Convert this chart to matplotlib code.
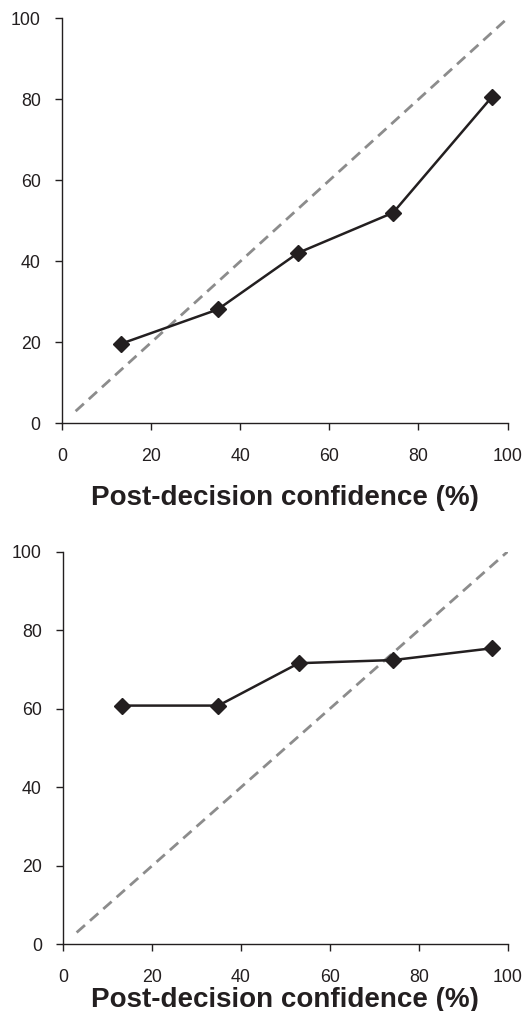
import matplotlib
matplotlib.use('Agg')
from matplotlib import pyplot as plt

plt.rcParams['font.family'] = ['Liberation Sans', 'DejaVu Sans']

# Data
conf_bins = [13.1, 34.9, 53.0, 74.3, 96.5]
top_acc = [19.6, 28.1, 42.1, 52.0, 80.6]
bottom_acc = [60.8, 60.8, 71.6, 72.4, 75.4]
diag = [3, 100]
ticks = [0, 20, 40, 60, 80, 100]
xlabel = 'Post-decision confidence (%)'

dark = '#231f20'

fig = plt.figure(figsize=(5.22, 10.11), dpi=100)
ax1 = fig.add_axes([0.1193, 0.5813, 0.8530, 0.4006])
ax2 = fig.add_axes([0.1213, 0.0660, 0.8510, 0.3883])

for ax, acc, lp, xpad in [(ax1, top_acc, 14, 13), (ax2, bottom_acc, 1, 12.5)]:
    ax.plot(diag, diag, color='#8c8c8c', lw=2.0, dashes=(4.0, 2.4), zorder=1)
    ax.plot(conf_bins, acc, color=dark, lw=1.8, marker='D', ms=8.5,
            mfc=dark, mec=dark, zorder=2)
    ax.set_xlim(0, 100)
    ax.set_ylim(0, 100)
    ax.set_xticks(ticks)
    ax.set_yticks(ticks)
    for s in ['top', 'right']:
        ax.spines[s].set_visible(False)
    for s in ['left', 'bottom']:
        ax.spines[s].set_color(dark)
        ax.spines[s].set_linewidth(1.0)
    ax.tick_params(axis='y', direction='out', length=5, width=1.0,
                   color=dark, labelcolor=dark, labelsize=12.8, pad=10.5)
    ax.tick_params(axis='x', direction='out', length=5, width=1.0,
                   color=dark, labelcolor=dark, labelsize=12.8, pad=xpad)
    ax.set_xlabel(xlabel, fontsize=20, fontweight='bold', color=dark,
                  labelpad=lp)

fig.savefig('out.png', dpi=100)
